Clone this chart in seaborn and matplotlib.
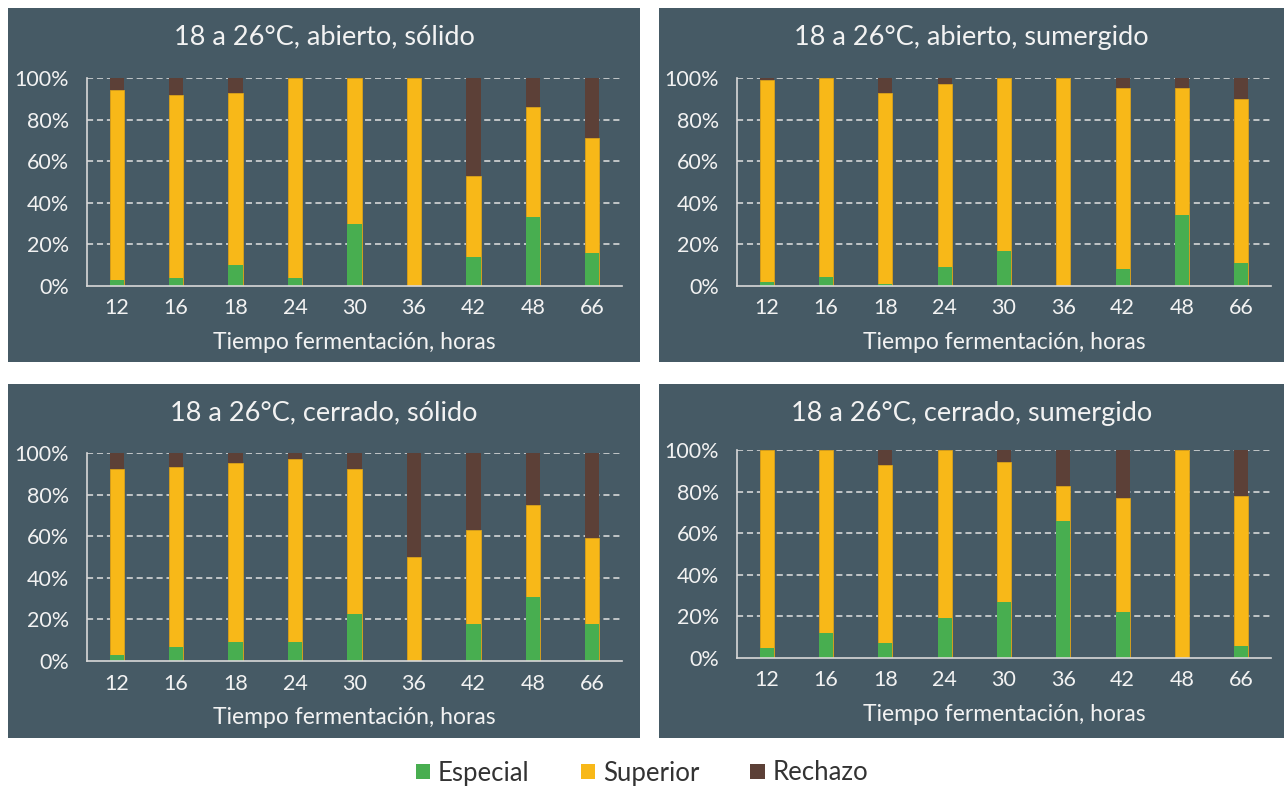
import matplotlib
matplotlib.use("Agg")
import matplotlib.pyplot as plt
import seaborn as sns
import numpy as np
from matplotlib.patches import Rectangle, Patch
from matplotlib.ticker import PercentFormatter

# ---------------- data ----------------
horas = ["12", "16", "18", "24", "30", "36", "42", "48", "66"]
series_names = ["Especial", "Superior", "Rechazo"]

titulo_1 = "18 a 26°C, abierto, sólido"
especial_1 = [3, 4, 10, 4, 30, 0, 14, 33, 16]
superior_1 = [91, 88, 83, 96, 70, 100, 39, 53, 55]
rechazo_1 = [6, 8, 7, 0, 0, 0, 47, 14, 29]

titulo_2 = "18 a 26°C, abierto, sumergido"
especial_2 = [2, 4.5, 1, 9, 17, 0, 8, 34, 11]
superior_2 = [97, 95.5, 92, 88, 83, 100, 87, 61, 79]
rechazo_2 = [1, 0, 7, 3, 0, 0, 5, 5, 10]

titulo_3 = "18 a 26°C, cerrado, sólido"
especial_3 = [3, 6.5, 9, 9, 22.5, 0, 18, 31, 18]
superior_3 = [89.5, 87, 86, 88, 70, 50, 45, 44, 41]
rechazo_3 = [7.5, 6.5, 5, 3, 7.5, 50, 37, 25, 41]

titulo_4 = "18 a 26°C, cerrado, sumergido"
especial_4 = [5, 12, 7, 19, 27, 66, 22, 0, 6]
superior_4 = [95, 88, 86, 81, 67, 16.5, 55, 100, 72]
rechazo_4 = [0, 0, 7, 0, 6, 17.5, 23, 0, 22]

xlabel = "Tiempo fermentación, horas"

# ---------------- style ----------------
C_ESP = "#48AE50"
C_SUP = "#F8B818"
C_REC = "#5C4037"
BG = "#465A65"
TXT = "#F2F2F2"
GRID = "#E2E2E2"

sns.set_theme(style="white")
plt.rcParams['font.family'] = ['Lato', 'DejaVu Sans']

W, H = 1284, 787
fig = plt.figure(figsize=(W / 100, H / 100), dpi=100)
fig.patch.set_facecolor("white")

panels = [
    ((titulo_1, especial_1, superior_1, rechazo_1), (8, 8, 640, 362), (87, 78, 622, 286)),
    ((titulo_2, especial_2, superior_2, rechazo_2), (659, 8, 1284, 362), (737, 78, 1271, 286)),
    ((titulo_3, especial_3, superior_3, rechazo_3), (8, 384, 640, 738), (87, 453, 622, 661)),
    ((titulo_4, especial_4, superior_4, rechazo_4), (659, 384, 1284, 738), (737, 450, 1271, 658)),
]

for (titulo, esp, sup, rec), (px0, py0, px1, py1), (al, at, ar, ab) in panels:
    fig.patches.append(Rectangle((px0 / W, 1 - py1 / H), (px1 - px0) / W, (py1 - py0) / H,
                                 transform=fig.transFigure, facecolor=BG, edgecolor="none",
                                 zorder=-5))
    ax = fig.add_axes([al / W, 1 - ab / H, (ar - al) / W, (ab - at) / H])
    ax.set_zorder(2)
    ax.set_facecolor("none")
    esp_a = np.array(esp, dtype=float)
    sup_a = np.array(sup, dtype=float)
    rec_a = np.array(rec, dtype=float)
    top3 = (esp_a + sup_a + rec_a) / 100
    top2 = (esp_a + sup_a) / 100
    top1 = esp_a / 100
    sns.barplot(x=horas, y=top3, order=horas, color=C_REC, saturation=1, width=0.24,
                linewidth=0, ax=ax, zorder=3)
    sns.barplot(x=horas, y=top2, order=horas, color=C_SUP, saturation=1, width=0.24,
                edgecolor="#D9A21C", linewidth=0.6, ax=ax, zorder=4)
    sns.barplot(x=horas, y=top1, order=horas, color=C_ESP, saturation=1, width=0.24,
                linewidth=0, ax=ax, zorder=5)
    ax.set_ylim(0, 1.0)
    ax.set_xlim(-0.5, len(horas) - 0.5)
    ax.set_yticks(np.linspace(0, 1, 6))
    ax.yaxis.set_major_formatter(PercentFormatter(1.0, decimals=0))
    for y in np.linspace(0.2, 1.0, 5):
        ax.axhline(y, color=GRID, lw=1.1, ls=(0, (4, 2.5)), zorder=1)
    for s in ["top", "right"]:
        ax.spines[s].set_visible(False)
    for s in ["left", "bottom"]:
        ax.spines[s].set_color("#D8D8D8")
        ax.spines[s].set_linewidth(1.2)
        ax.spines[s].set_zorder(6)
    ax.tick_params(axis="x", colors=TXT, labelsize=15.5, length=0, pad=9)
    ax.tick_params(axis="y", colors=GRID, labelcolor=TXT, labelsize=15.5, length=6,
                   width=1.1, pad=7)
    ax.set_xlabel(xlabel, color=TXT, fontsize=16.5, labelpad=10)
    ax.set_ylabel("")
    fig.text(((px0 + px1) / 2) / W, 1 - (py0 + 29) / H, titulo, color=TXT,
             fontsize=19.5, ha="center", va="center")

handles = [Patch(facecolor=c, edgecolor="none") for c in (C_ESP, C_SUP, C_REC)]
fig.legend(handles, series_names, loc="center", bbox_to_anchor=(0.5, 1 - 773 / H), ncol=3,
           frameon=False, fontsize=18.5, handlelength=0.55, handleheight=0.55,
           handletextpad=0.3, columnspacing=2.0, labelcolor="#333333")

fig.savefig("out.png", dpi=100, facecolor="white")
